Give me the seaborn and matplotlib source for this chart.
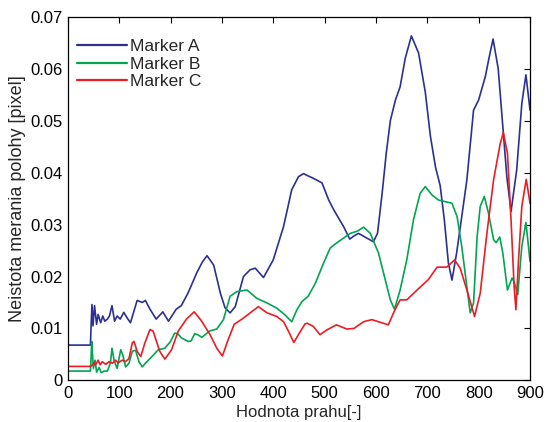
import numpy as np
import pandas as pd
import matplotlib
matplotlib.use("Agg")
import matplotlib.pyplot as plt
import seaborn as sns

# values
x_a = [0, 44, 45.5, 47, 49, 52, 56, 59, 64, 68, 72, 77, 81, 86, 91, 96, 102, 109, 115, 122,
       128, 135, 145, 151, 160, 172, 185, 196, 211, 221, 234, 251, 262, 271, 284, 297, 306,
       316, 326, 342, 355, 365, 381, 400, 420, 436, 449, 459, 467, 478, 495, 508, 518, 537,
       549, 557, 566, 582, 595, 603, 612, 620, 628, 638, 647, 657, 669, 683, 696, 706, 716,
       725, 733, 741, 748, 757, 767, 777, 790, 800, 813, 820, 828, 838, 848, 855, 863, 874,
       884, 892, 900]
y_a = [0.0068, 0.0068, 0.011, 0.0146, 0.0105, 0.0144, 0.0108, 0.0127, 0.0111, 0.0124, 0.0114,
       0.0118, 0.0124, 0.0144, 0.0114, 0.0124, 0.0118, 0.0131, 0.0121, 0.0111, 0.0131, 0.0154,
       0.015, 0.0154, 0.0137, 0.0118, 0.0132, 0.0114, 0.0137, 0.0144, 0.0168, 0.0207, 0.0228,
       0.024, 0.0222, 0.0168, 0.014, 0.013, 0.0142, 0.020, 0.0213, 0.0216, 0.0198, 0.0232,
       0.0296, 0.0367, 0.0392, 0.0398, 0.0394, 0.0389, 0.038, 0.0347, 0.0328, 0.0296, 0.0272,
       0.0278, 0.0283, 0.0274, 0.0267, 0.0283, 0.036, 0.0437, 0.050, 0.054, 0.0565, 0.062,
       0.0663, 0.063, 0.0555, 0.047, 0.041, 0.0375, 0.031, 0.0226, 0.0193, 0.0245, 0.0315,
       0.0386, 0.052, 0.054, 0.0585, 0.062, 0.0657, 0.060, 0.0476, 0.039, 0.0325, 0.0405,
       0.0533, 0.0588, 0.052]

x_b = [0, 44, 45.5, 46.5, 49.8, 53, 56, 61, 65, 71, 77, 83, 86, 90, 96, 103, 107, 112.6, 119,
       125.5, 132, 138.5, 145, 150, 163, 176, 189, 200, 208, 214, 221, 234, 240, 247, 253, 261,
       276, 290, 303, 316, 329, 349, 368, 388, 407, 423, 436, 446, 456, 468, 482, 498, 511,
       524, 537, 550, 563, 576, 589, 605, 618, 628, 636, 647, 660, 673, 686, 696, 709, 722,
       735, 748, 758, 767, 777, 783.5, 790, 797, 803, 811, 819, 829, 834, 841, 847, 856, 865,
       869, 876, 884, 892, 900]
y_b = [0.0018, 0.0018, 0.005, 0.0075, 0.0023, 0.0039, 0.0016, 0.0025, 0.0015, 0.0018, 0.0018,
       0.0034, 0.0062, 0.0039, 0.0023, 0.0059, 0.0049, 0.0026, 0.0033, 0.0056, 0.0058, 0.0036,
       0.0026, 0.0032, 0.0045, 0.0059, 0.0062, 0.0075, 0.0091, 0.009, 0.0082, 0.0075, 0.0076,
       0.009, 0.0088, 0.0083, 0.0095, 0.0099, 0.0117, 0.0162, 0.0171, 0.0174, 0.0158, 0.0149,
       0.0139, 0.0126, 0.0113, 0.0136, 0.0152, 0.0162, 0.0187, 0.0226, 0.0255, 0.0265, 0.0274,
       0.0283, 0.0287, 0.0295, 0.0283, 0.0245, 0.0194, 0.0155, 0.0137, 0.0174, 0.0232, 0.0309,
       0.036, 0.0373, 0.0357, 0.0347, 0.0344, 0.0341, 0.0315, 0.0258, 0.018, 0.013, 0.0149,
       0.0277, 0.0335, 0.0354, 0.0322, 0.0271, 0.0265, 0.0276, 0.0245, 0.0174, 0.0197, 0.019,
       0.0165, 0.0258, 0.0304, 0.0229]

x_c = [0, 44, 47, 51, 54, 59, 63, 67, 74, 80, 87, 93, 98, 106, 112, 119, 125.5, 129, 135, 142,
       150, 160, 166, 179, 189, 202, 215, 231, 246, 260, 277, 290, 301, 312, 324, 342, 359,
       371, 388, 407, 420, 430, 440, 449, 462, 466, 478, 491, 504, 523, 543, 557, 576, 592,
       608, 624, 637, 647, 660, 680, 702, 719, 738, 753, 764, 777, 792, 803, 816, 829, 842,
       848, 856, 863, 869, 872.5, 877.6, 884, 892.6, 900]
y_c = [0.0027, 0.0027, 0.0029, 0.0034, 0.003, 0.0039, 0.003, 0.0036, 0.0031, 0.0036, 0.0033,
       0.0039, 0.0034, 0.0039, 0.0036, 0.0042, 0.0072, 0.0075, 0.0056, 0.0046, 0.0072, 0.0098,
       0.0095, 0.0056, 0.0041, 0.0059, 0.0095, 0.0118, 0.0132, 0.0115, 0.0088, 0.0062, 0.0047,
       0.0078, 0.0108, 0.012, 0.0133, 0.0142, 0.013, 0.0123, 0.0113, 0.0094, 0.0073, 0.0088,
       0.0109, 0.011, 0.0104, 0.0088, 0.0097, 0.0107, 0.0099, 0.01, 0.0113, 0.0117, 0.0112,
       0.0107, 0.0136, 0.0155, 0.0155, 0.0174, 0.0194, 0.0218, 0.0218, 0.0232, 0.0216, 0.0174,
       0.0123, 0.0168, 0.0283, 0.0386, 0.0456, 0.0477, 0.0437, 0.0309, 0.0181, 0.0136, 0.0232,
       0.0335, 0.0387, 0.0341]

names = ["Marker A", "Marker B", "Marker C"]
colors = ["#2b3092", "#00a651", "#ed1c24"]
x_ticks = list(range(0, 901, 100))
y_ticks = [0, 0.01, 0.02, 0.03, 0.04, 0.05, 0.06, 0.07]
y_labels = ["0", "0.01", "0.02", "0.03", "0.04", "0.05", "0.06", "0.07"]

df = pd.concat([
    pd.DataFrame({"x": x_a, "y": y_a, "marker": names[0]}),
    pd.DataFrame({"x": x_b, "y": y_b, "marker": names[1]}),
    pd.DataFrame({"x": x_c, "y": y_c, "marker": names[2]}),
], ignore_index=True)

sns.set_style("white")
plt.rcParams["font.family"] = ["Liberation Sans", "DejaVu Sans"]

fig = plt.figure(figsize=(5.47, 4.22), dpi=100)
ax = fig.add_axes([0.124, 0.0985, 0.845, 0.862])
sns.lineplot(data=df, x="x", y="y", hue="marker", palette=colors, sort=False,
             estimator=None, linewidth=1.2, ax=ax)

ax.set_xlim(0, 900)
ax.set_ylim(0, 0.07)
ax.set_xticks(x_ticks)
ax.set_yticks(y_ticks)
ax.set_yticklabels(y_labels)
ax.tick_params(direction="in", top=True, right=True, length=4, width=0.8,
               labelsize=12, colors="black", pad=4)
for s in ax.spines.values():
    s.set_color("black")
    s.set_linewidth(0.9)
ax.set_xlabel("Hodnota prahu[-]", fontsize=12, labelpad=3)
ax.set_ylabel("Neistota merania polohy [pixel]", fontsize=13, labelpad=3)
leg = ax.legend(loc="upper left", bbox_to_anchor=(0.019, 0.938), frameon=False,
                fontsize=12.5, handlelength=2.9, borderaxespad=0, borderpad=0,
                labelspacing=0.12, handletextpad=0.2)
for ln in leg.get_lines():
    ln.set_linewidth(1.6)

fig.savefig("out.png", dpi=100)
